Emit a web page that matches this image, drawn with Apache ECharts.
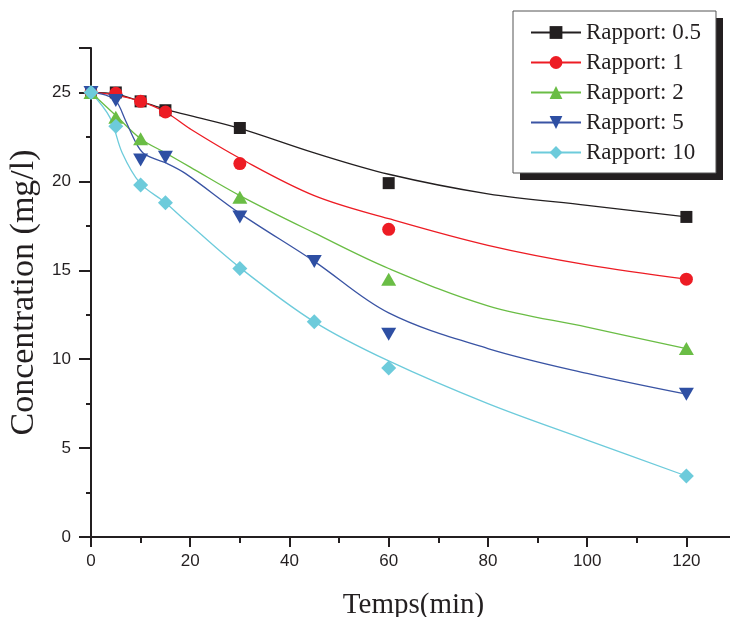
<!DOCTYPE html>
<html><head><meta charset="utf-8">
<script src="https://cdn.jsdelivr.net/npm/echarts@6/dist/echarts.min.js"></script>
<style>html,body{margin:0;padding:0;background:#fff;overflow:hidden}#c{width:730px;height:617px;position:absolute;left:0;top:0}</style>
</head><body><div id="c"></div>
<script>
// ---- data ----
var seriesNames = ['Rapport: 0.5', 'Rapport: 1', 'Rapport: 2', 'Rapport: 5', 'Rapport: 10'];
// measured points [time (min), concentration (mg/l)]
var ptsR05 = [[0,25],[5,25.0],[10,24.5],[15,24.0],[30,23.0],[60,19.9],[120,18.0]];
var ptsR1  = [[0,25],[5,24.95],[10,24.5],[15,23.9],[30,21.0],[60,17.3],[120,14.5]];
var ptsR2  = [[0,25],[5,23.6],[10,22.4],[30,19.1],[60,14.5],[120,10.6]];
var ptsR5  = [[0,25],[5,24.55],[10,21.2],[15,21.35],[30,18.0],[45,15.5],[60,11.4],[120,8.03]];
var ptsR10 = [[0,25],[5,23.1],[10,19.8],[15,18.8],[30,15.1],[45,12.1],[60,9.5],[120,3.43]];
// fitted curves
var fitR05 = [[0,25],[5,24.9],[10,24.5],[15,24.05],[20,23.7],[30,22.98],[45,21.6],[60,20.4],[80,19.3],[100,18.65],[120,18.0]];
var fitR1  = [[0,25],[5,24.85],[10,24.5],[15,23.9],[20,22.95],[30,21.3],[45,19.2],[60,17.9],[80,16.4],[100,15.3],[120,14.5]];
var fitR2  = [[0,25],[5,23.7],[10,22.4],[15,21.6],[20,20.8],[30,19.2],[45,17.1],[60,15.1],[80,13.0],[100,11.8],[120,10.6]];
var fitR5  = [[0,25],[3,24.85],[5,24.55],[7,23.4],[9,22.2],[10.5,21.6],[13,21.25],[15,21.05],[19,20.45],[30,18.2],[45,15.5],[60,12.6],[80,10.6],[100,9.2],[120,8.03]];
var fitR10 = [[0,25],[3.8,23.6],[6.3,21.6],[9.9,19.9],[15,18.8],[19,17.8],[30,15.15],[45,12.1],[60,9.9],[80,7.5],[100,5.45],[120,3.43]];
var xTicks = [0,20,40,60,80,100,120];
var yTicks = [0,5,10,15,20,25];

var pts = [ptsR05, ptsR1, ptsR2, ptsR5, ptsR10];
var fits = [fitR05, fitR1, fitR2, fitR5, fitR10];
var markerColors = ['#231f20', '#ed1c24', '#6abd45', '#2e4fa3', '#6dcbdb'];
var lineColors = ['#231f20', '#ed1c24', '#6abd45', '#3a54a4', '#6dcbdb'];
var symbols = ['rect', 'circle', 'triangle', 'triangle', 'diamond'];
var symRot = [0, 0, 0, 180, 0];
var symSize = [[12,12], 13, [15,13], [15,13], [15,15]];

var series = [];
for (var i = 0; i < 5; i++) {
  series.push({
    name: seriesNames[i], type: 'line', data: fits[i], smooth: 0.35,
    symbol: symbols[i], symbolRotate: symRot[i], symbolSize: symSize[i], showSymbol: false,
    lineStyle: {color: lineColors[i], width: 1.3},
    itemStyle: {color: markerColors[i]},
    silent: true, z: 2
  });
}
for (var j = 0; j < 5; j++) {
  series.push({
    name: seriesNames[j], type: 'scatter', data: pts[j],
    symbol: symbols[j], symbolRotate: symRot[j], symbolSize: symSize[j],
    itemStyle: {color: markerColors[j], opacity: 1}, z: 3
  });
}

var chart = echarts.init(document.getElementById('c'), null, {renderer: 'canvas', width: 730, height: 617});
chart.setOption({
  animation: false,
  backgroundColor: '#fff',
  grid: {left: 91, right: -6, top: 48, bottom: 80, containLabel: false, outerBoundsMode: 'none'},
  graphic: [{
    type: 'rect', left: 520, top: 18, z: 0, silent: true,
    shape: {width: 203, height: 162},
    style: {fill: '#231f20'}
  }],
  legend: {
    orient: 'vertical', left: 513, top: 11, z: 10,
    data: seriesNames,
    padding: [10, 15, 9, 17],
    itemWidth: 50, itemHeight: 16, itemGap: 7,
    backgroundColor: '#fff', borderColor: '#555', borderWidth: 1,
    textStyle: {fontFamily: 'Liberation Serif', fontSize: 23, color: '#231f20', lineHeight: 22}
  },
  xAxis: {
    type: 'value', min: 0, max: 130, interval: 20,
    name: 'Temps(min)', nameLocation: 'middle', nameGap: 54,
    nameTextStyle: {fontFamily: 'Liberation Serif', fontSize: 29, color: '#231f20'},
    axisLine: {show: true, onZero: false, lineStyle: {color: '#231f20', width: 2}},
    axisTick: {show: true, inside: false, length: 10, lineStyle: {color: '#231f20', width: 2}},
    minorTick: {show: true, splitNumber: 2, length: 6, lineStyle: {color: '#231f20', width: 2}},
    axisLabel: {margin: 16, fontFamily: 'Liberation Sans Narrow, Liberation Sans', fontSize: 17, color: '#231f20',
      formatter: function (v) { return xTicks.indexOf(v) >= 0 ? String(v) : ''; }},
    splitLine: {show: false}
  },
  yAxis: {
    type: 'value', min: 0, max: 27.5, interval: 5,
    name: 'Concentration (mg/l)', nameLocation: 'middle', nameGap: 40,
    nameTextStyle: {fontFamily: 'Liberation Serif', fontSize: 34, color: '#231f20'},
    axisLine: {show: true, onZero: false, lineStyle: {color: '#231f20', width: 2}},
    axisTick: {show: true, inside: false, length: 12, lineStyle: {color: '#231f20', width: 2}},
    minorTick: {show: true, splitNumber: 2, length: 5, lineStyle: {color: '#231f20', width: 2}},
    axisLabel: {margin: 20, fontFamily: 'Liberation Sans Narrow, Liberation Sans', fontSize: 17, color: '#231f20',
      formatter: function (v) { return yTicks.indexOf(v) >= 0 ? String(v) : ''; }},
    splitLine: {show: false}
  },
  series: series
});
</script></body></html>
